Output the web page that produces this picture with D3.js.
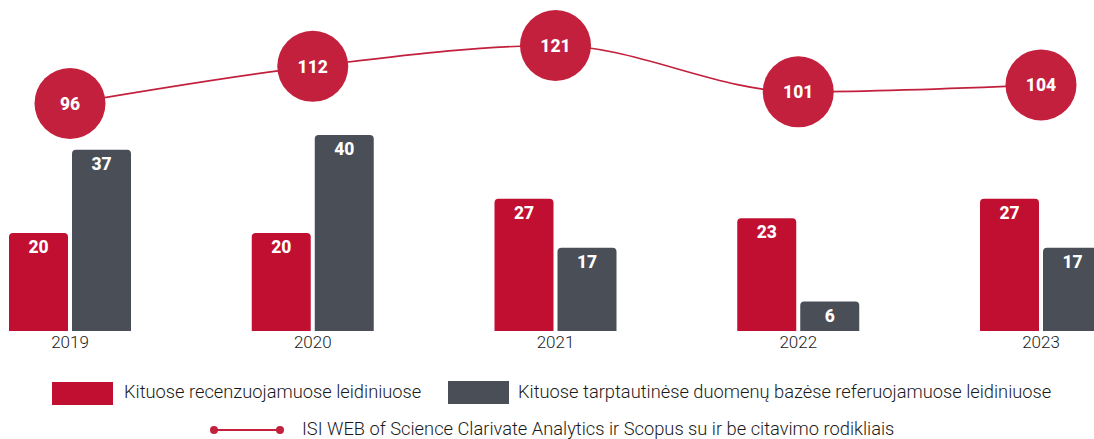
<!DOCTYPE html>
<html><head><meta charset="utf-8">
<script src="https://cdn.jsdelivr.net/npm/d3@7"></script>
<style>
html,body{margin:0;padding:0;background:#fff;}
svg{display:block;font-family:Roboto, "Noto Sans", sans-serif;}
</style></head>
<body><svg id="c" width="1094" height="439"></svg>
<script>
const years = ["2019","2020","2021","2022","2023"];
const reviewed = [20,20,27,23,27];
const intlDb = [37,40,17,6,17];
const isiScopus = [96,112,121,101,104];
const legendLabels = [
  "Kituose recenzuojamuose leidiniuose",
  "Kituose tarptautinėse duomenų bazėse referuojamuose leidiniuose",
  "ISI WEB of Science Clarivate Analytics ir Scopus su ir be citavimo rodikliais"
];

const RED = "#c10f31", GRAY = "#4a4f57", CIRC = "#c2203c";
const svg = d3.select("#c");

const x = d3.scalePoint().domain(years).range([70, 1041]);
const yBar = d3.scaleLinear().domain([0, 40]).range([331, 135]);
const yLine = d3.scaleLinear().domain([0, 121]).range([326, 45.5]);

const bw = 59, gap = 2;
function topRounded(x0, y0, w, h, r) {
  return `M${x0},${y0+h}V${y0+r}Q${x0},${y0} ${x0+r},${y0}H${x0+w-r}Q${x0+w},${y0} ${x0+w},${y0+r}V${y0+h}Z`;
}
const series = [
  {vals: reviewed, color: RED, off: -gap - bw},
  {vals: intlDb, color: GRAY, off: gap}
];
series.forEach(s => {
  const g = svg.append("g");
  g.selectAll("path").data(years).join("path")
    .attr("d", (d,i) => {
      const top = yBar(s.vals[i]);
      return topRounded(x(d) + s.off, top, bw, yBar(0) - top, 4);
    })
    .attr("fill", s.color);
  g.selectAll("text").data(years).join("text")
    .attr("x", (d,i) => x(d) + s.off + bw/2)
    .attr("y", (d,i) => yBar(s.vals[i]) + 20)
    .attr("text-anchor", "middle")
    .attr("fill", "#fff")
    .attr("font-weight", 800)
    .attr("font-size", 17.5)
    .text((d,i) => s.vals[i]);
});

// year labels
svg.append("g").selectAll("text").data(years).join("text")
  .attr("x", d => x(d)).attr("y", 348)
  .attr("text-anchor", "middle").attr("font-size", 17).attr("font-weight", 300)
  .attr("fill", "#1a1a1a").text(d => d);

// line
const line = d3.line().x((d,i) => x(years[i])).y(d => yLine(d)).curve(d3.curveMonotoneX);
svg.append("path").datum(isiScopus).attr("d", line)
  .attr("fill", "none").attr("stroke", CIRC).attr("stroke-width", 1.6);
const cg = svg.append("g").selectAll("g").data(isiScopus).join("g")
  .attr("transform", (d,i) => `translate(${x(years[i])},${yLine(d)})`);
cg.append("circle").attr("r", 35.5).attr("fill", CIRC);
cg.append("text").attr("text-anchor", "middle").attr("dy", "0.36em")
  .attr("fill", "#fff").attr("font-weight", 800).attr("font-size", 17.5).text(d => d);

// legend
const lg = svg.append("g").attr("font-size", 18.3).attr("fill", "#1a1a1a").attr("font-weight", 300);
lg.append("rect").attr("x", 52).attr("y", 382).attr("width", 61).attr("height", 23).attr("fill", RED);
lg.append("text").attr("x", 124).attr("y", 398).text(legendLabels[0]);
lg.append("rect").attr("x", 448).attr("y", 381).attr("width", 61).attr("height", 23).attr("fill", GRAY);
lg.append("text").attr("x", 518).attr("y", 398).text(legendLabels[1]);
lg.append("line").attr("x1", 214).attr("x2", 280).attr("y1", 430).attr("y2", 430)
  .attr("stroke", CIRC).attr("stroke-width", 2);
lg.append("circle").attr("cx", 214).attr("cy", 430).attr("r", 4).attr("fill", CIRC);
lg.append("circle").attr("cx", 280).attr("cy", 430).attr("r", 4).attr("fill", CIRC);
lg.append("text").attr("x", 302).attr("y", 434.5).text(legendLabels[2]);
</script></body></html>
